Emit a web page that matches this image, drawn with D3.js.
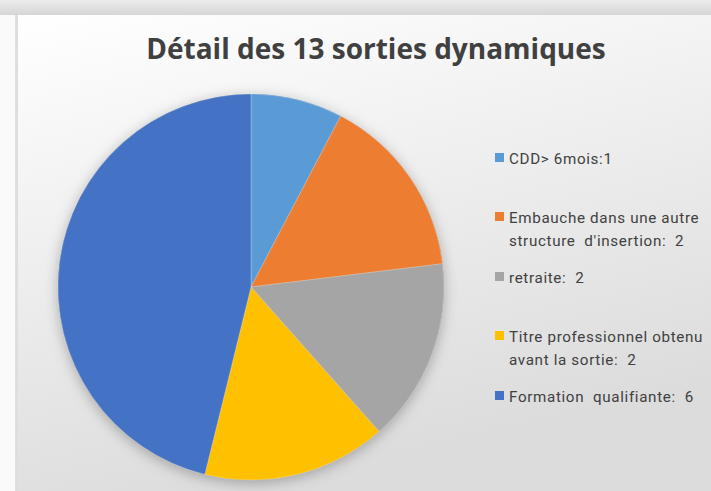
<!DOCTYPE html>
<html>
<head>
<meta charset="utf-8">
<script src="https://cdn.jsdelivr.net/npm/d3@7"></script>
<style>
  body { margin: 0; background: #fff; }
  svg { display: block; }
</style>
</head>
<body>
<div id="chart"></div>
<script>
// data
const categories = ["CDD> 6mois", "Embauche dans une autre structure d'insertion", "retraite", "Titre professionnel obtenu avant la sortie", "Formation qualifiante"];
const values = [1, 2, 2, 2, 6];
const legendLines = [
    ["CDD> 6mois:1"],
    ["Embauche dans une autre", "structure  d'insertion:  2"],
    ["retraite:  2"],
    ["Titre professionnel obtenu", "avant la sortie:  2"],
    ["Formation  qualifiante:  6"]
];
const colors = ["#5b9bd5", "#ed7d31", "#a5a5a5", "#ffc000", "#4472c4"];
const title = "Détail des 13 sorties dynamiques";

const width = 711, height = 491;
const svg = d3.select("#chart").append("svg")
    .attr("width", width)
    .attr("height", height);

const defs = svg.append("defs");

// background gradient of the chart area
const bg = defs.append("linearGradient").attr("id", "bg")
    .attr("x1", "0").attr("y1", "0").attr("x2", "0.35").attr("y2", "1");
bg.append("stop").attr("offset", "0").attr("stop-color", "#ffffff");
bg.append("stop").attr("offset", "1").attr("stop-color", "#dcdcdc");

const topStrip = defs.append("linearGradient").attr("id", "topStrip")
    .attr("x1", "0").attr("y1", "0").attr("x2", "0").attr("y2", "1");
topStrip.append("stop").attr("offset", "0").attr("stop-color", "#ececec");
topStrip.append("stop").attr("offset", "1").attr("stop-color", "#d6d6d6");

const shadow = defs.append("filter").attr("id", "shadow")
    .attr("x", "-20%").attr("y", "-20%").attr("width", "140%").attr("height", "140%");
shadow.append("feDropShadow")
    .attr("dx", 0).attr("dy", 3)
    .attr("stdDeviation", 7)
    .attr("flood-color", "#000")
    .attr("flood-opacity", 0.28);

// outer frame
svg.append("rect").attr("width", width).attr("height", height).attr("fill", "#fafafa");
svg.append("rect").attr("x", 0).attr("y", 0).attr("width", width).attr("height", 15)
    .attr("fill", "url(#topStrip)");
svg.append("rect").attr("x", 15).attr("y", 15).attr("width", 5).attr("height", height - 15)
    .attr("fill", "#dedede");
svg.append("rect").attr("x", 18).attr("y", 15).attr("width", width - 18).attr("height", height - 15)
    .attr("fill", "url(#bg)");

// title
svg.append("text")
    .attr("x", 376)
    .attr("y", 59)
    .attr("text-anchor", "middle")
    .attr("font-family", "'Open Sans', 'Noto Sans', sans-serif")
    .attr("font-weight", "bold")
    .attr("font-size", 28)
    .attr("fill", "#404040")
    .text(title);

// pie
const cx = 251, cy = 287, radius = 193;
const pie = d3.pie().sort(null).value(d => d);
const arc = d3.arc().innerRadius(0).outerRadius(radius);

const g = svg.append("g").attr("transform", `translate(${cx},${cy})`);
g.append("circle").attr("r", radius).attr("fill", "#888").attr("filter", "url(#shadow)");
g.selectAll("path")
    .data(pie(values))
    .enter()
    .append("path")
    .attr("d", arc)
    .attr("fill", (d, i) => colors[i])
    .attr("stroke", "rgba(255,255,255,0.35)")
    .attr("stroke-width", 0.7);

// legend
const legendY = [158, 217, 277, 336, 396];
const legend = svg.append("g");
legendLines.forEach((lines, i) => {
    legend.append("rect")
        .attr("x", 495)
        .attr("y", legendY[i] - 5)
        .attr("width", 9)
        .attr("height", 9)
        .attr("fill", colors[i]);
    lines.forEach((line, j) => {
        legend.append("text")
            .attr("x", 509)
            .attr("y", legendY[i] + j * 23 + 5.5)
            .attr("font-family", "Roboto, sans-serif")
            .attr("font-size", 15.2)
            .attr("letter-spacing", 0.65)
            .attr("fill", "#404040")
            .attr("xml:space", "preserve")
            .style("white-space", "pre")
            .text(line);
    });
});
</script>
</body>
</html>
